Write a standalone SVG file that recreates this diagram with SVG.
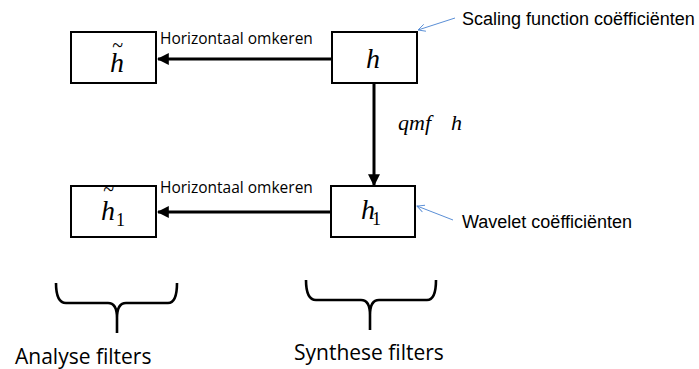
<svg xmlns="http://www.w3.org/2000/svg" width="699" height="369" viewBox="0 0 699 369">
  <style>
    .box { fill: #ffffff; stroke: #000000; stroke-width: 2; }
    .conn { stroke: #000000; stroke-width: 3; fill: none; }
    .note { stroke: #5b8fd6; stroke-width: 1; fill: none; }
    .brace { stroke: #000000; stroke-width: 2.6; fill: none; stroke-linejoin: round; }
    .sym { font-family: "Liberation Serif", "DejaVu Serif", serif; font-style: italic; font-size: 28px; fill: #000; }
    .tilde { font-size: 20px; }
    .sub { font-size: 18px; font-style: normal; }
    .lbl { font-family: "Open Sans", "Liberation Sans", sans-serif; font-size: 15.5px; fill: #000; }
    .ann { font-family: "Liberation Sans", Arial, sans-serif; font-size: 18px; fill: #000; }
    .cap { font-family: "Open Sans", "Liberation Sans", sans-serif; font-size: 21px; fill: #000; }
    .qmf { font-family: "Liberation Serif", "DejaVu Serif", serif; font-style: italic; font-size: 22px; fill: #000; }
  </style>
  <defs>
    <marker id="head" viewBox="0 0 10 10" refX="9" refY="5" markerWidth="4" markerHeight="4" orient="auto" markerUnits="strokeWidth">
      <path d="M0,0 L10,5 L0,10 z" fill="#000"/>
    </marker>
    <marker id="thin" viewBox="0 0 10 10" refX="9" refY="5" markerWidth="9" markerHeight="9" orient="auto" markerUnits="userSpaceOnUse">
      <path d="M1,1 L9,5 L1,9" fill="none" stroke="#5b8fd6" stroke-width="1"/>
    </marker>
  </defs>

  <!-- connectors -->
  <g id="connectors">
    <line class="conn" x1="332" y1="59" x2="158" y2="59" marker-end="url(#head)"/>
    <line class="conn" x1="331" y1="212" x2="158" y2="212" marker-end="url(#head)"/>
    <line class="conn" x1="374" y1="84" x2="374" y2="185" marker-end="url(#head)"/>
    <line class="note" x1="455" y1="18" x2="418" y2="30" marker-end="url(#thin)"/>
    <line class="note" x1="453" y1="220" x2="417" y2="206" marker-end="url(#thin)"/>
  </g>

  <!-- edge labels -->
  <text class="lbl" x="160" y="44">Horizontaal omkeren</text>
  <text class="lbl" x="160" y="193">Horizontaal omkeren</text>
  <text class="qmf" x="398" y="130">qmf<tspan x="451">h</tspan></text>

  <!-- filter nodes -->
  <g id="node-h-tilde">
    <rect class="box" x="71" y="32" width="85" height="51"/>
    <text class="sym" x="110" y="72">h<tspan class="tilde" dx="-12" dy="-20">~</tspan></text>
  </g>
  <g id="node-h">
    <rect class="box" x="332" y="32" width="85" height="51"/>
    <text class="sym" x="366" y="68">h</text>
  </g>
  <g id="node-h1-tilde">
    <rect class="box" x="71" y="186" width="85" height="51"/>
    <text class="sym" x="101" y="220">h<tspan class="tilde" dx="-12" dy="-24">~</tspan><tspan class="sub" x="116" y="226">1</tspan></text>
  </g>
  <g id="node-h1">
    <rect class="box" x="331" y="186" width="84" height="51"/>
    <text class="sym" x="361" y="219">h<tspan class="sub" x="372" y="225">1</tspan></text>
  </g>

  <!-- annotations -->
  <text class="ann" x="462" y="25">Scaling function coëfficiënten</text>
  <text class="ann" x="462" y="228">Wavelet coëfficiënten</text>

  <!-- group braces -->
  <path class="brace" d="M56,283 Q56,303 66,303 L108,303 Q117,303 117,318 L117,333 M117,318 Q117,303 126,303 L168,303 Q177,303 177,283"/>
  <path class="brace" d="M306,280 Q306,300 316,300 L361,300 Q370,300 370,315 L370,330 M370,315 Q370,300 379,300 L427,300 Q436,300 436,280"/>
  <text class="cap" x="15" y="364">Analyse filters</text>
  <text class="cap" x="294" y="360">Synthese filters</text>
</svg>
